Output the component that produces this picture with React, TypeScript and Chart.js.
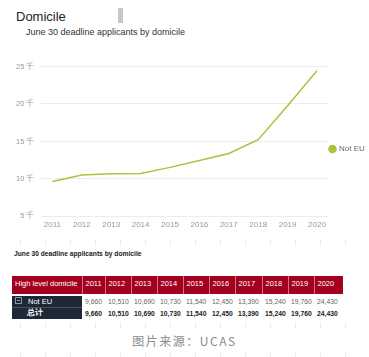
import React, { useEffect, useRef } from "react";
import { Chart, registerables } from "chart.js";

Chart.register(...registerables);

const years = [2011, 2012, 2013, 2014, 2015, 2016, 2017, 2018, 2019, 2020];
const notEU = [9660, 10510, 10690, 10730, 11540, 12450, 13390, 15240, 19760, 24430];
const yTicks = [5, 10, 15, 20, 25];
const seriesName = "Not EU";
const totalLabel = "总计";
const headerLabel = "High level domicile";

const GREEN = "#a8c43c";
const SANS = "'Liberation Sans', Arial, Helvetica, sans-serif";

function fmt(n: number) {
  return n.toLocaleString("en-US");
}

function TickRow({ top }: { top: number }) {
  const xs: number[] = [];
  for (let x = 20; x < 369; x += 25) xs.push(x);
  return (
    <>
      {xs.map((x) => (
        <div
          key={x}
          style={{ position: "absolute", left: x, top, width: 1, height: 6, background: "#ececec" }}
        />
      ))}
    </>
  );
}

export default function App() {
  const ref = useRef<HTMLCanvasElement | null>(null);

  useEffect(() => {
    if (!ref.current) return;
    const chart = new Chart(ref.current, {
      type: "line",
      data: {
        datasets: [
          {
            label: seriesName,
            data: years.map((y, i) => ({ x: y, y: notEU[i] / 1000 })),
            borderColor: GREEN,
            backgroundColor: GREEN,
            borderWidth: 1.5,
            pointRadius: 0,
            pointHoverRadius: 0,
            tension: 0,
          },
        ],
      },
      options: {
        animation: false,
        responsive: false,
        maintainAspectRatio: false,
        layout: { padding: { left: 9, top: 9, right: 0, bottom: 0 } },
        plugins: {
          tooltip: { enabled: false },
          legend: {
            position: "right",
            align: "center",
            maxWidth: 41,
            labels: {
              usePointStyle: true,
              pointStyle: "circle",
              boxWidth: 5,
              boxHeight: 5,
              padding: 2,
              color: "#666",
              font: { family: SANS, size: 8 },
            },
          },
        },
        scales: {
          x: {
            type: "linear",
            min: years[0] - 0.375,
            max: years[years.length - 1] + 0.375,
            afterBuildTicks: (axis: any) => {
              axis.ticks = years.map((v) => ({ value: v }));
            },
            grid: { display: false, drawTicks: false },
            border: { display: false },
            ticks: {
              color: "#999",
              font: { family: SANS, size: 8 },
              padding: 4,
              maxRotation: 0,
              autoSkip: false,
              callback: (v: any) => String(v),
            },
          },
          y: {
            min: yTicks[0],
            max: yTicks[yTicks.length - 1],
            afterBuildTicks: (axis: any) => {
              axis.ticks = yTicks.map((v) => ({ value: v }));
            },
            grid: { color: "#ececec", lineWidth: 1, drawTicks: false },
            border: { display: false },
            ticks: {
              color: "#999",
              font: { family: SANS, size: 7.5 },
              padding: 7,
              callback: (v: any) => `${v} 千`,
            },
          },
        },
      },
    });
    return () => chart.destroy();
  }, []);

  const headCell: React.CSSProperties = {
    background: "#a3001f",
    color: "#fff",
    fontSize: 7.5,
    fontWeight: 400,
    textAlign: "left",
    verticalAlign: "top",
    padding: "3px 2px 0 3px",
    height: 15,
    borderRight: "1px solid rgba(255,255,255,0.45)",
    whiteSpace: "nowrap",
  };
  const firstCell: React.CSSProperties = {
    background: "#1d2737",
    color: "#fff",
    fontSize: 7.5,
    padding: "0 0 0 3px",
    whiteSpace: "nowrap",
    borderBottom: "1px solid #47505e",
  };
  const valCell: React.CSSProperties = {
    fontSize: 6.8,
    color: "#666",
    padding: "0 0 0 3px",
    whiteSpace: "nowrap",
    textAlign: "left",
  };
  const colWidths = [70, 23, 26, 26, 26, 26, 26, 27, 26, 26, 29];

  return (
    <div style={{ position: "absolute", left: 0, top: 0, width: 369, height: 357, background: "#fff", overflow: "hidden", fontFamily: SANS }}>
      <div style={{ position: "absolute", left: 16, top: 9, fontSize: 13, color: "#222" }}>Domicile</div>
      <div style={{ position: "absolute", left: 118, top: 8, width: 5, height: 15, background: "#c8c8c8" }} />
      <div style={{ position: "absolute", left: 26, top: 27, fontSize: 9, color: "#333" }}>
        June 30 deadline applicants by domicile
      </div>
      <canvas
        ref={ref}
        width={369}
        height={179}
        style={{ position: "absolute", left: 0, top: 55, width: 369, height: 179 }}
      />
      <TickRow top={240} />
      <div style={{ position: "absolute", left: 14, top: 250, fontSize: 6.7, color: "#222", fontWeight: 700 }}>
        June 30 deadline applicants by domicile
      </div>
      <table
        style={{
          position: "absolute",
          left: 12,
          top: 276,
          borderCollapse: "collapse",
          tableLayout: "fixed",
          width: 331,
          fontFamily: SANS,
        }}
      >
        <colgroup>
          {colWidths.map((w, i) => (
            <col key={i} style={{ width: w }} />
          ))}
        </colgroup>
        <tbody>
          <tr>
            <th style={headCell}>{headerLabel}</th>
            {years.map((y) => (
              <th key={y} style={headCell}>{y}</th>
            ))}
          </tr>
          <tr style={{ height: 2 }}>
            <td colSpan={11} style={{ padding: 0, height: 1 }} />
          </tr>
          <tr style={{ height: 11 }}>
            <td style={firstCell}>
              <span
                style={{
                  display: "inline-block",
                  width: 5,
                  height: 5,
                  border: "1px solid #8d96a3",
                  position: "relative",
                  marginRight: 6,
                  verticalAlign: "middle",
                  top: -1,
                }}
              >
                <span style={{ position: "absolute", left: 1, top: 2, width: 3, height: 1, background: "#8d96a3" }} />
              </span>
              {seriesName}
            </td>
            {notEU.map((v, i) => (
              <td key={i} style={valCell}>{fmt(v)}</td>
            ))}
          </tr>
          <tr style={{ height: 12 }}>
            <td style={{ ...firstCell, borderBottom: "none", fontWeight: 700, paddingLeft: 15 }}>{totalLabel}</td>
            {notEU.map((v, i) => (
              <td key={i} style={{ ...valCell, color: "#222", fontWeight: 700 }}>{fmt(v)}</td>
            ))}
          </tr>
        </tbody>
      </table>
      <TickRow top={322} />
      <div
        style={{
          position: "absolute",
          left: 0,
          width: 369,
          top: 332,
          textAlign: "center",
          fontFamily: "'Noto Sans CJK SC', 'Noto Sans', sans-serif",
          fontSize: 12,
          letterSpacing: 1.5,
          color: "#8a8a8a",
        }}
      >
        图片来源：UCAS
      </div>
      <TickRow top={352} />
    </div>
  );
}
